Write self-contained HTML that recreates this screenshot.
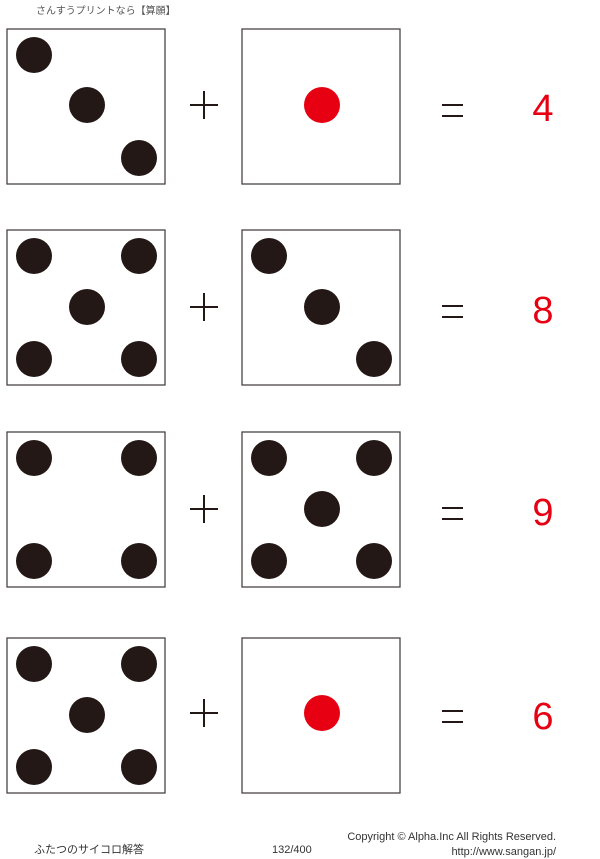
<!DOCTYPE html>
<html><head><meta charset="utf-8"><style>
body{margin:0;background:#fff;width:600px;height:859px;overflow:hidden}
svg{display:block}
</style></head><body>
<svg width="600" height="859" xmlns="http://www.w3.org/2000/svg" font-family="'Liberation Sans','Noto Sans CJK JP',sans-serif">
<text x="36" y="14" font-size="10" fill="#555">さんすうプリントなら【算願】</text>
<g fill="none" stroke="#4a4444" stroke-width="1.3">
<rect x="7" y="29" width="158" height="155"/><rect x="242" y="29" width="158" height="155"/>
<rect x="7" y="230" width="158" height="155"/><rect x="242" y="230" width="158" height="155"/>
<rect x="7" y="432" width="158" height="155"/><rect x="242" y="432" width="158" height="155"/>
<rect x="7" y="638" width="158" height="155"/><rect x="242" y="638" width="158" height="155"/>
</g>
<g fill="#231815">
<circle cx="34" cy="55" r="18"/><circle cx="87" cy="105" r="18"/><circle cx="139" cy="158" r="18"/>
<circle cx="34" cy="256" r="18"/><circle cx="139" cy="256" r="18"/><circle cx="87" cy="307" r="18"/><circle cx="34" cy="359" r="18"/><circle cx="139" cy="359" r="18"/>
<circle cx="269" cy="256" r="18"/><circle cx="322" cy="307" r="18"/><circle cx="374" cy="359" r="18"/>
<circle cx="34" cy="458" r="18"/><circle cx="139" cy="458" r="18"/><circle cx="34" cy="561" r="18"/><circle cx="139" cy="561" r="18"/>
<circle cx="269" cy="458" r="18"/><circle cx="374" cy="458" r="18"/><circle cx="322" cy="509" r="18"/><circle cx="269" cy="561" r="18"/><circle cx="374" cy="561" r="18"/>
<circle cx="34" cy="664" r="18"/><circle cx="139" cy="664" r="18"/><circle cx="87" cy="715" r="18"/><circle cx="34" cy="767" r="18"/><circle cx="139" cy="767" r="18"/>
</g>
<g fill="#e60012">
<circle cx="322" cy="105" r="18"/><circle cx="322" cy="713" r="18"/>
</g>
<g stroke="#231815" stroke-width="2">
<path d="M190 105h28M204 91v28"/><path d="M190 307h28M204 293v28"/><path d="M190 509h28M204 495v28"/><path d="M190 713h28M204 699v28"/>
<path d="M442 105h21M442 116h21"/><path d="M442 306h21M442 317h21"/><path d="M442 508h21M442 519h21"/><path d="M442 711h21M442 722h21"/>
</g>
<g fill="#e60012" font-size="38" text-anchor="middle">
<text x="543" y="121">4</text><text x="543" y="323">8</text><text x="543" y="525">9</text><text x="543" y="729">6</text>
</g>
<g font-size="11" fill="#333">
<text x="34" y="853">ふたつのサイコロ解答</text>
<text x="272" y="853">132/400</text>
<text x="556" y="840" text-anchor="end">Copyright ©  Alpha.Inc All Rights Reserved.</text>
<text x="556" y="855" text-anchor="end">http://www.sangan.jp/</text>
</g>
</svg>
</body></html>
